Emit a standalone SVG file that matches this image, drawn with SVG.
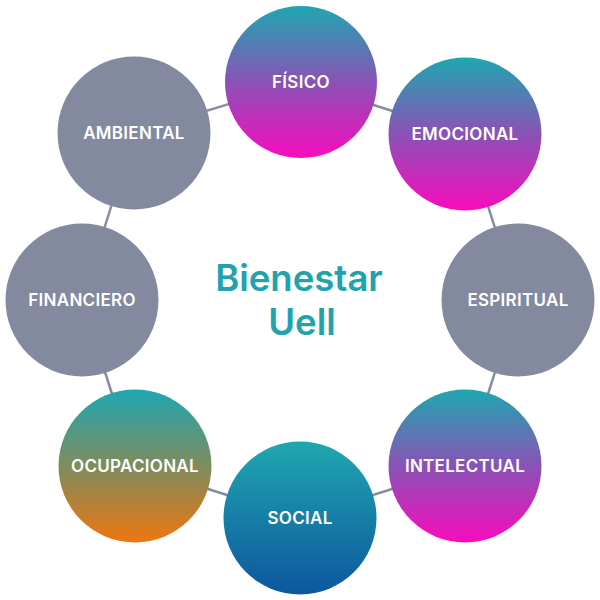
<svg xmlns="http://www.w3.org/2000/svg" width="600" height="600" viewBox="0 0 600 600">
<defs>
<linearGradient id="gPink" x1="0" y1="0" x2="0" y2="1">
<stop offset="0" stop-color="#1ea7b0"/>
<stop offset="0.5" stop-color="#8a52b6"/>
<stop offset="1" stop-color="#f80bbd"/>
</linearGradient>
<linearGradient id="gBlue" x1="0" y1="0" x2="0" y2="1">
<stop offset="0" stop-color="#20a7af"/>
<stop offset="1" stop-color="#0d569f"/>
</linearGradient>
<linearGradient id="gOrange" x1="0" y1="0" x2="0" y2="1">
<stop offset="0" stop-color="#1ea7b2"/>
<stop offset="0.5" stop-color="#7e8c5e"/>
<stop offset="1" stop-color="#ef7610"/>
</linearGradient>
<style>
.lbl{font-family:Inter,"Liberation Sans",sans-serif;font-weight:600;font-size:17px;letter-spacing:0.3px;fill:#ffffff;text-anchor:middle;}
.grey{fill:#83899f;}
.conn line{stroke:#878ca1;stroke-width:2.5;}
.title{font-family:Inter,"Liberation Sans",sans-serif;font-weight:600;font-size:36.5px;fill:#21a3ad;text-anchor:middle;}
</style>
</defs>
<g id="connectors" class="conn">
<line x1="301" y1="82" x2="465" y2="134"/>
<line x1="465" y1="134" x2="518" y2="300"/>
<line x1="518" y1="300" x2="465" y2="466"/>
<line x1="465" y1="466" x2="300" y2="518"/>
<line x1="300" y1="518" x2="135" y2="466"/>
<line x1="135" y1="466" x2="82" y2="300"/>
<line x1="82" y1="300" x2="134" y2="133"/>
<line x1="134" y1="133" x2="301" y2="82"/>
</g>
<g id="fisico"><circle cx="301" cy="82" r="76" fill="url(#gPink)"/><text class="lbl" x="301" y="88">FÍSICO</text></g>
<g id="emocional"><circle cx="465" cy="134" r="76.5" fill="url(#gPink)"/><text class="lbl" x="465" y="140">EMOCIONAL</text></g>
<g id="espiritual"><circle cx="518" cy="300" r="76.5" class="grey"/><text class="lbl" x="518" y="306">ESPIRITUAL</text></g>
<g id="intelectual"><circle cx="465" cy="466" r="76.5" fill="url(#gPink)"/><text class="lbl" x="465" y="472">INTELECTUAL</text></g>
<g id="social"><circle cx="300" cy="518" r="76.5" fill="url(#gBlue)"/><text class="lbl" x="300" y="524">SOCIAL</text></g>
<g id="ocupacional"><circle cx="135" cy="466" r="76.5" fill="url(#gOrange)"/><text class="lbl" x="135" y="472">OCUPACIONAL</text></g>
<g id="financiero"><circle cx="82" cy="300" r="76.5" class="grey"/><text class="lbl" x="82" y="306">FINANCIERO</text></g>
<g id="ambiental"><circle cx="134" cy="133" r="76.5" class="grey"/><text class="lbl" x="134" y="139">AMBIENTAL</text></g>
<g id="center"><text class="title" x="299" y="291">Bienestar</text><text class="title" x="302" y="335">Uell</text></g>
</svg>
